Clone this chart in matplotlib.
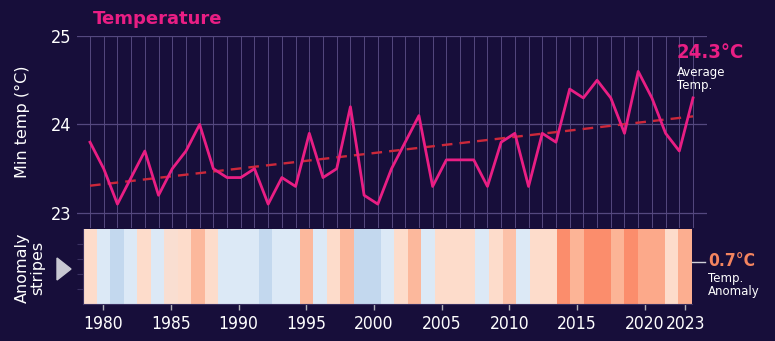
import numpy as np
import matplotlib
matplotlib.use("Agg")
import matplotlib.pyplot as plt
from matplotlib.colors import LinearSegmentedColormap, Normalize
from matplotlib import font_manager
from matplotlib.font_manager import FontProperties

# Data
years = list(range(1979, 2024))
min_temp = [23.8, 23.5, 23.1, 23.4, 23.7, 23.2, 23.5, 23.7, 24.0, 23.5,
            23.4, 23.4, 23.5, 23.1, 23.4, 23.3, 23.9, 23.4, 23.5, 24.2,
            23.2, 23.1, 23.5, 23.8, 24.1, 23.3, 23.6, 23.6, 23.6, 23.3,
            23.8, 23.9, 23.3, 23.9, 23.8, 24.4, 24.3, 24.5, 24.3, 23.9,
            24.6, 24.3, 23.9, 23.7, 24.3]
anomaly = [0.2, -0.2, -0.5, -0.2, 0.2, -0.2, 0.15, 0.2, 0.6, 0.2,
           -0.2, -0.2, -0.2, -0.5, -0.2, -0.2, 0.6, -0.2, 0.2, 0.6,
           -0.5, -0.5, -0.2, 0.2, 0.6, -0.2, 0.2, 0.2, 0.2, -0.2,
           0.2, 0.5, -0.2, 0.2, 0.2, 1.0, 0.65, 1.0, 1.0, 0.65,
           1.0, 0.75, 0.75, 0.2, 0.7]
y_ticks = [23, 24, 25]
x_ticks = [1980, 1985, 1990, 1995, 2000, 2005, 2010, 2015, 2020, 2023]

BG = "#170e3a"
PINK = "#e91e84"
GRID = "#54487f"

# look for a condensed / narrow font file for the numbers
def find_narrow(bold):
    best = None
    for f in font_manager.fontManager.ttflist:
        narrowish = (f.stretch in ("condensed", "semi-condensed", "extra-condensed")
                     or "Narrow" in f.name or "Condensed" in f.name
                     or "Condensed" in f.fname or "Narrow" in f.fname)
        if not narrowish or f.style != "normal":
            continue
        is_bold = f.weight in ("bold", 700) or "Bold" in f.fname
        if is_bold == bold:
            if best is None or "Liberation" in f.fname:
                best = f.fname
    return best

reg = find_narrow(False)
bld = find_narrow(True)
NUM = FontProperties(fname=reg) if reg else FontProperties(family="DejaVu Sans")
NUMB = FontProperties(fname=bld) if bld else FontProperties(family="DejaVu Sans", weight="bold")
scale = 1.0 if reg else 0.78

W, H = 775, 341
fig = plt.figure(figsize=(W / 100, H / 100), dpi=100, facecolor=BG)

def box(l, t, r, b):
    return [l / W, 1 - b / H, (r - l) / W, (b - t) / H]

# --- temperature line panel ---
ax = fig.add_axes(box(77, 36, 707, 228))
ax.set_facecolor(BG)
ax.set_xlim(1978.05, 2024.02)
ax.set_ylim(22.83, 25.0)
ax.vlines(years, 22.83, 25.0, color=GRID, lw=0.7, zorder=1)
for yv in y_ticks:
    ax.axhline(yv, color=GRID, lw=0.9, zorder=1)

ax.plot(years, min_temp, color=PINK, lw=2.0, zorder=3)
slope, icpt = np.polyfit(years, min_temp, 1)
trend = np.polyval([slope, icpt], years)
ax.plot(years, trend, color="#cc283a", lw=1.7, ls=(0, (4.5, 3)), zorder=2)

for s in ax.spines.values():
    s.set_visible(False)
ax.set_xticks([])
ax.set_yticks(y_ticks)
ax.set_yticklabels([str(v) for v in y_ticks], fontproperties=NUM, color="white")
for t in ax.get_yticklabels():
    t.set_fontsize(13 * scale)
ax.tick_params(axis="y", length=0, pad=4)

# --- anomaly stripes panel ---
cmap = LinearSegmentedColormap.from_list(
    "stripes",
    [(0.0, "#c3d8ee"), (0.2, "#dce9f6"), (0.4667, "#fddccb"),
     (0.7667, "#fcb496"), (1.0, "#fb8d6c")])
norm = Normalize(-0.5, 1.0)

ax2 = fig.add_axes(box(83, 229, 692, 304))
ax2.set_facecolor(BG)
ax2.bar(years, 1, width=1.0, color=cmap(norm(np.array(anomaly))), align="center")
ax2.set_xlim(1978.5, 2023.5)
ax2.set_ylim(0, 1)
for s in ["top", "right"]:
    ax2.spines[s].set_visible(False)
ax2.spines["left"].set_color("#3a3060")
ax2.spines["bottom"].set_color("#3a3060")
ax2.set_yticks([0.2, 0.4, 0.6, 0.8])
ax2.set_yticklabels([])
ax2.tick_params(axis="y", length=4, color="#3a3060")
ax2.set_xticks(x_ticks)
ax2.set_xticklabels([str(v) for v in x_ticks], fontproperties=NUM, color="white")
for t in ax2.get_xticklabels():
    t.set_fontsize(12.5 * scale)
ax2.tick_params(axis="x", length=4, width=1, color="#b0b0b8", pad=4)

# --- annotations ---
fig.text(93 / W, 1 - 19 / H, "Temperature", color=PINK, fontsize=13,
         fontweight="bold", va="center", ha="left")
fig.text(22 / W, 1 - 122 / H, "Min temp (°C)", color="white", fontsize=11.5,
         rotation=90, ha="center", va="center")
fig.text(30 / W, 1 - 268 / H, "Anomaly\nstripes", color="white", fontsize=11.5,
         rotation=90, ha="center", va="center", linespacing=0.95)
tri = plt.Polygon([(57 / W, 1 - 258 / H), (57 / W, 1 - 280 / H), (71 / W, 1 - 269 / H)],
                  closed=True, color="#c8c8d2", transform=fig.transFigure)
fig.patches.append(tri)

t1 = fig.text(677 / W, 1 - 52 / H, "24.3°C", color=PINK, fontproperties=NUMB,
              ha="left", va="center")
t1.set_fontsize(14.5 * scale)
fig.text(677 / W, 1 - 79 / H, "Average\nTemp.", color="white", fontsize=8.5,
         ha="left", va="center", linespacing=1.0)

fig.lines.append(plt.Line2D([692 / W, 705 / W], [1 - 262 / H, 1 - 262 / H],
                            color="#d0d0d8", lw=1, transform=fig.transFigure))
t2 = fig.text(708 / W, 1 - 261 / H, "0.7°C", color="#f4845f", fontproperties=NUMB,
              ha="left", va="center")
t2.set_fontsize(12.5 * scale)
fig.text(708 / W, 1 - 285 / H, "Temp.\nAnomaly", color="white", fontsize=8.5,
         ha="left", va="center", linespacing=1.0)

fig.savefig("out.png", dpi=100, facecolor=BG)
